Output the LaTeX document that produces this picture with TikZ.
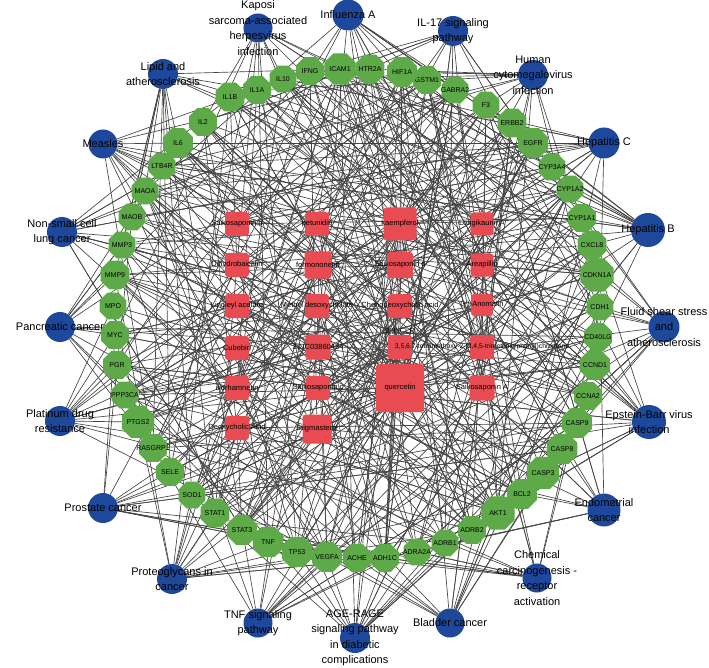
\documentclass[tikz,border=0pt]{standalone}
\usepackage{fontspec}
\setmainfont{Liberation Sans}
\usetikzlibrary{shapes.geometric}
\definecolor{bblue}{RGB}{30,72,155}
\definecolor{ggreen}{RGB}{94,170,72}
\definecolor{rred}{RGB}{232,76,82}
\definecolor{edgegray}{RGB}{68,68,68}
\pgfdeclarelayer{bg}
\pgfsetlayers{bg,main}
\tikzset{
  bnode/.style={circle, fill=bblue, draw=none, inner sep=0pt, minimum size=31pt},
  gnode/.style={regular polygon, regular polygon sides=8, fill=ggreen, draw=none, inner sep=0pt},
  rnode/.style={rectangle, rounded corners=3pt, fill=rred, draw=none, inner sep=0pt},
  blab/.style={font=\fontsize{11}{15.5}\selectfont, align=center, text=black, inner sep=0pt},
  glab/.style={font=\fontsize{7}{8}\selectfont, text=black, inner sep=0pt},
  rlab/.style={font=\fontsize{7.5}{9}\selectfont, text=black, inner sep=0pt},
  edge/.style={draw=edgegray, line width=0.65pt}
}
\begin{document}
\begin{tikzpicture}[x=1pt,y=-1pt]
\useasboundingbox (0,0) rectangle (709,668);

% pathway nodes (blue)
\foreach \i/\x/\y/\s/\t in {
 1/348/15/31pt/{Influenza A},
 2/453/31/30pt/{IL-17 signaling\\pathway},
 3/533/75/30pt/{Human\\cytomegalovirus\\infection},
 4/604/143/31pt/{Hepatitis C},
 5/648/230/34pt/{Hepatitis B},
 6/664/327/31pt/{Fluid shear stress\\and\\atherosclerosis},
 7/649/422/34pt/{Epstein-Barr virus\\infection},
 8/604/510/33pt/{Endometrial\\cancer},
 9/537/578/29pt/{Chemical\\carcinogenesis -\\receptor\\activation},
 10/450/623/29pt/{Bladder cancer},
 11/355/638/30pt/{AGE-RAGE\\signaling pathway\\in diabetic\\complications},
 12/258/623/29pt/{TNF signaling\\pathway},
 13/172/579/30pt/{Proteoglycans in\\cancer},
 14/103/508/30pt/{Prostate cancer},
 15/60/421/30pt/{Platinum drug\\resistance},
 16/60/327/30pt/{Pancreatic cancer},
 17/62/232/30pt/{Non-small cell\\lung cancer},
 18/103/144/29pt/{Measles},
 19/163/74/30pt/{Lipid and\\atherosclerosis},
 20/258/28/29pt/{Kaposi\\sarcoma-associated\\herpesvirus\\infection}}
{
  \node[bnode, minimum size=\s, label={[blab]center:\t}] (b\i) at (\x,\y) {};
}

% target nodes (green)
\foreach \i/\x/\y/\s/\t in {
 1/357/558/30pt/ACHE, 2/385/558/30pt/ADH1C, 3/417/552/29pt/ADRA2A, 4/445/543/29pt/ADRB1,
 5/472/530/30pt/ADRB2, 6/498/513/36pt/AKT1, 7/522/494/32pt/BCL2, 8/543/473/35pt/CASP3,
 9/562/449/33pt/CASP8, 10/577/423/32pt/CASP9, 11/588/396/30pt/CCNA2, 12/595/365/32pt/CCND1,
 13/598/337/30pt/CD40LG, 14/600/307/29pt/CDH1, 15/597/275/36pt/CDKN1A, 16/592/245/31pt/CXCL8,
 17/582/218/30pt/CYP1A1, 18/570/189/29pt/CYP1A2, 19/552/167/29pt/CYP3A4, 20/533/143/32pt/EGFR,
 21/512/123/31pt/ERBB2, 22/486/105/29pt/F3, 23/455/90/29pt/GABRA2, 24/427/80/30pt/GSTM1,
 25/402/72/32pt/HIF1A, 26/370/69/31pt/HTR2A, 27/340/69/34pt/ICAM1, 28/310/71/30pt/IFNG,
 29/283/79/29pt/IL10, 30/257/90/30pt/IL1A, 31/230/97/31pt/IL1B, 32/203/122/30pt/IL2,
 33/178/143/32pt/IL6, 34/162/166/29pt/LTB4R, 35/145/191/29pt/MAOA, 36/132/217/29pt/MAOB,
 37/122/245/29pt/MMP3, 38/115/275/31pt/MMP9, 39/113/306/29pt/MPO, 40/115/335/30pt/MYC,
 41/117/365/30pt/PGR, 42/125/395/29pt/PPP3CA, 43/138/422/35pt/PTGS2, 44/153/448/30pt/RASGRP1,
 45/170/472/30pt/SELE, 46/192/495/29pt/SOD1, 47/215/513/31pt/STAT1, 48/242/530/32pt/STAT3,
 49/268/542/33pt/TNF, 50/297/552/33pt/TP53, 51/327/557/32pt/VEGFA}
{
  \node[gnode, minimum size=\s, label={[glab]center:\t}] (g\i) at (\x,\y) {};
}

% compound nodes (red)
\foreach \i/\x/\y/\s/\t in {
 1/237/224/24pt/{Saikosaponin b},
 2/317/224/24pt/{petunidin},
 3/400/224/33pt/{kaempferol},
 4/482/224/23pt/{Longikaurin A},
 5/237/265/24pt/{Dihydrobaicalin},
 6/318/265/27pt/{formononetin},
 7/400/265/26pt/{Saikosaponin d},
 8/482/265/23pt/{Areapillin},
 9/237/306/24pt/{Linoleyl acetate},
 10/317/306/24pt/{Methyl desoxycholate},
 11/400/306/24pt/{Chenodeoxycholic acid},
 12/482/305/22pt/{(+)-Anomalin},
 13/237/348/24pt/{Cubebin},
 14/318/347/25pt/{ZINC03860434},
 17/237/388/24pt/{isorhamnetin},
 18/318/388/24pt/{Saikosaponin c},
 19/400/388/48pt/{quercetin},
 20/482/388/25pt/{Saikosaponin A},
 21/237/428/24pt/{Deoxycholic Acid},
 22/317/429/29pt/{Stigmasterol}}
{
  \node[rnode, minimum size=\s, label={[rlab]center:\t}] (r\i) at (\x,\y) {};
}
\node[rnode, minimum size=24pt, label={[rlab]above:{3,3'-CLR}}] (r15) at (400,347) {};
\node[rnode, minimum size=24pt, label={[rlab, font=\fontsize{6.8}{8}\selectfont]center:{3,5,6,7-tetramethoxy-2-(3,4,5-trimethoxyphenyl)chromone}}] (r16) at (482,347) {};

% connectors
\begin{pgfonlayer}{bg}
\fill[white] (0,0) rectangle (709,668);
\pgfmathsetseed{20240}
\foreach \b/\n in {1/15,2/13,3/15,4/15,5/19,6/15,7/17,8/13,9/13,10/15,11/17,12/15,13/17,14/15,15/15,16/13,17/15,18/15,19/15,20/13}
{
  \foreach \k in {1,...,\n}
  {
    \pgfmathtruncatemacro{\t}{random(1,51)}
    \draw[edge] (b\b) -- (g\t);
  }
}
\foreach \r/\n in {1/9,2/11,3/30,4/8,5/10,6/16,7/9,8/11,9/8,10/8,11/9,12/9,13/8,14/9,15/11,16/11,17/18,18/8,19/50,20/9,21/8,22/13}
{
  \foreach \k in {1,...,\n}
  {
    \pgfmathtruncatemacro{\t}{random(1,51)}
    \draw[edge] (r\r) -- (g\t);
  }
}
\end{pgfonlayer}
\end{tikzpicture}
\end{document}
